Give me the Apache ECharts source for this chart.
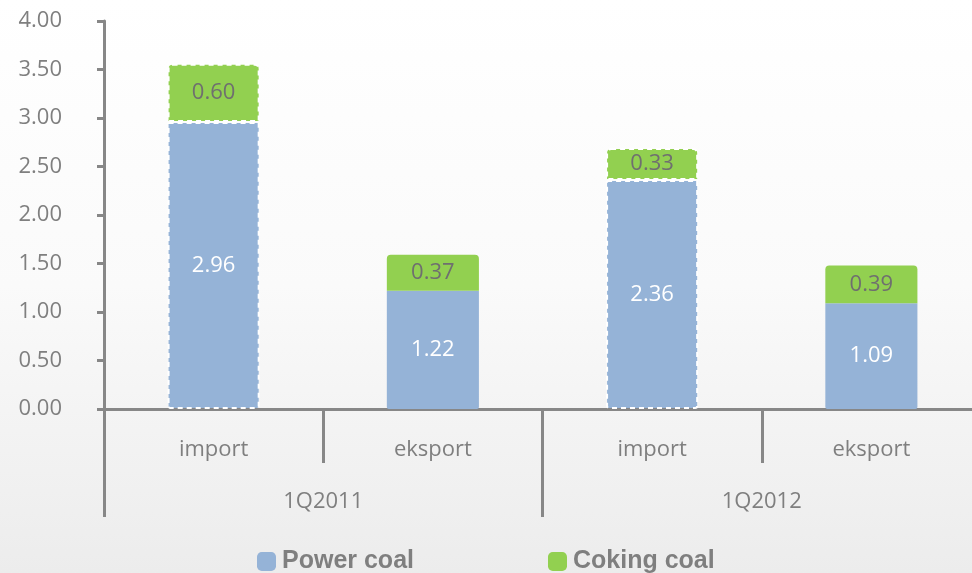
<!DOCTYPE html>
<html>
<head>
<meta charset="utf-8">
<script src="https://cdn.jsdelivr.net/npm/echarts@6/dist/echarts.min.js"></script>
<style>html,body{margin:0;padding:0;background:#fff;}#c{width:972px;height:573px;}</style>
</head>
<body>
<div id="c"></div>
<script>
const categories = ['import', 'eksport', 'import', 'eksport'];
const groups = ['1Q2011', '1Q2012'];
const powerCoal = [2.96, 1.22, 2.36, 1.09];
const cokingCoal = [0.60, 0.37, 0.33, 0.39];
const dashed = [true, false, true, false];
const seriesNames = ['Power coal', 'Coking coal'];

const FONT = 'Open Sans';
const GREY = '#7f7f7f';
const AXIS = '#878787';

function items(vals) {
  return vals.map((v, i) => ({
    value: v,
    itemStyle: dashed[i]
      ? { borderColor: '#ffffff', borderWidth: 2, borderType: [5, 4] }
      : { borderWidth: 0 }
  }));
}

const chart = echarts.init(document.getElementById('c'), null, { renderer: 'canvas' });
chart.setOption({
  animation: false,
  backgroundColor: {
    type: 'linear', x: 0, y: 0, x2: 0, y2: 1,
    colorStops: [{ offset: 0, color: '#ffffff' }, { offset: 0.5, color: '#fafafa' }, { offset: 1, color: '#ececec' }]
  },
  grid: { left: 104, width: 877, top: 21, height: 388, containLabel: false, outerBoundsMode: 'none' },
  legend: {
    data: seriesNames,
    left: 252, top: 544, itemGap: 134,
    itemWidth: 19, itemHeight: 19,
    icon: 'roundRect',
    textStyle: { fontFamily: 'Liberation Sans', fontWeight: 'bold', fontSize: 25, color: GREY, padding: [0, 0, 0, 1] }
  },
  xAxis: [
    {
      type: 'category', data: categories, position: 'bottom',
      axisLine: { show: true, lineStyle: { color: AXIS, width: 3 } },
      axisTick: { show: true, length: 54, lineStyle: { color: AXIS, width: 3 }, alignWithLabel: false },
      axisLabel: { margin: 30, fontFamily: FONT, fontSize: 22, color: GREY }
    },
    {
      type: 'category', data: groups, position: 'bottom',
      axisLine: { show: false },
      axisTick: { show: true, length: 108, lineStyle: { color: AXIS, width: 3 } },
      axisLabel: { margin: 82, fontFamily: FONT, fontSize: 22, color: GREY }
    }
  ],
  yAxis: {
    type: 'value', min: 0, max: 4, interval: 0.5,
    axisLine: { show: true, lineStyle: { color: AXIS, width: 3 } },
    axisTick: { show: true, length: 7, lineStyle: { color: AXIS, width: 3 } },
    splitLine: { show: false },
    axisLabel: { margin: 42, fontFamily: FONT, fontSize: 22, color: GREY, formatter: v => v.toFixed(2) }
  },
  series: [
    {
      name: seriesNames[0], type: 'bar', stack: 'a', xAxisIndex: 0,
      barWidth: '42%',
      data: items(powerCoal),
      itemStyle: { color: '#95b3d7', borderRadius: [0, 0, 2, 2] },
      label: { show: true, position: 'inside', fontFamily: FONT, fontSize: 22, color: '#ffffff', formatter: p => p.value.toFixed(2) }
    },
    {
      name: seriesNames[1], type: 'bar', stack: 'a', xAxisIndex: 0,
      barWidth: '42%',
      data: items(cokingCoal),
      itemStyle: { color: '#92d050', borderRadius: [4, 4, 0, 0] },
      label: { show: true, position: 'inside', fontFamily: FONT, fontSize: 22, color: '#6f6f6f', formatter: p => p.value.toFixed(2) }
    }
  ]
});
</script>
</body>
</html>
